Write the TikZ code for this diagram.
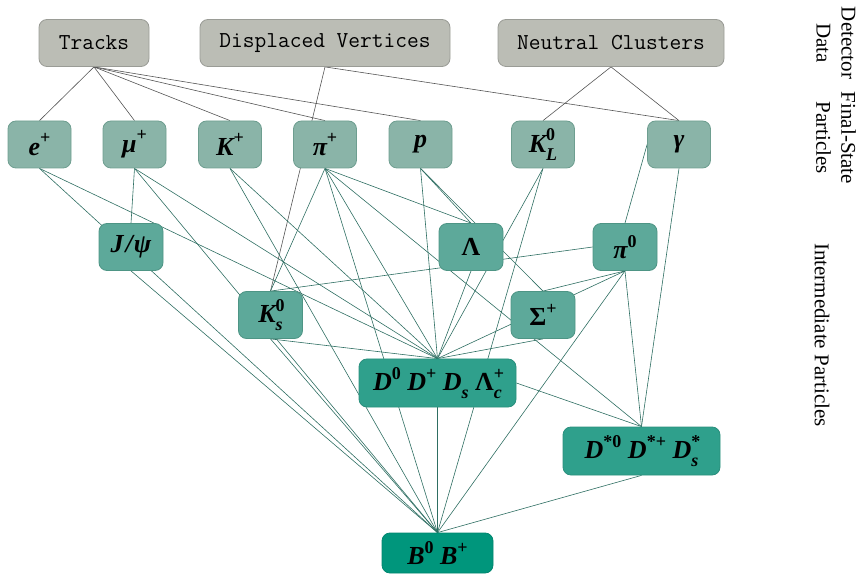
\documentclass[tikz,border=0pt]{standalone}
\usepackage{fontspec}
\setmainfont{Liberation Serif}
\usetikzlibrary{backgrounds}
\definecolor{topfill}{HTML}{BBBDB5}
\definecolor{topdraw}{HTML}{9A9C96}
\definecolor{fsfill}{HTML}{8AB4A8}
\definecolor{fsdraw}{HTML}{6E9E90}
\definecolor{imfill}{HTML}{5DA99A}
\definecolor{imdraw}{HTML}{4E9585}
\definecolor{dfill}{HTML}{2FA08C}
\definecolor{ddraw}{HTML}{2A8F7D}
\definecolor{bfill}{HTML}{00967C}
\definecolor{bdraw}{HTML}{00866F}
\definecolor{glink}{HTML}{555555}
\definecolor{tlink}{HTML}{2E6E62}
\newcommand{\sps}[1]{\raisebox{0.45em}{\fontsize{18}{18}\selectfont\upshape #1}}
\newcommand{\sbs}[1]{\raisebox{-0.3em}{\fontsize{18}{18}\selectfont #1}}
\newcommand{\spsb}[2]{\rlap{\sps{#1}}\sbs{#2}}
\tikzset{
  base/.style={rounded corners=8pt, line width=0.8pt, minimum height=47pt, inner sep=0pt},
  det/.style={base, fill=topfill, draw=topdraw, font=\fontsize{22.8}{24}\ttfamily},
  pfont/.style={font=\fontsize{26}{28}\selectfont\bfseries\itshape},
  fsp/.style={base, pfont, fill=fsfill, draw=fsdraw, minimum width=63pt},
  imp/.style={base, pfont, fill=imfill, draw=imdraw, minimum width=64pt},
  dmes/.style={base, pfont, fill=dfill, draw=ddraw, minimum width=157pt, minimum height=48pt},
  bmes/.style={base, pfont, fill=bfill, draw=bdraw, minimum width=111pt, minimum height=40pt},
  glk/.style={draw=glink, line width=0.6pt},
  tlk/.style={draw=tlink, line width=0.6pt},
  lab/.style={rotate=-90, align=center, font=\fontsize{21}{25}\selectfont, inner sep=0pt}
}
\begin{document}
\begin{tikzpicture}[x=1pt,y=-1pt]
\useasboundingbox (0,0) rectangle (865,577);
% detector data
\node[det, minimum width=110pt] (trk) at (94,43) {Tracks};
\node[det, minimum width=250pt] (dv) at (325,43) {Displaced Vertices};
\node[det, minimum width=226pt] (nc) at (611,43) {Neutral Clusters};
% final state
\node[fsp] (ep) at (39.5,144.5) {e\sps{+}};
\node[fsp] (mu) at (134.5,144.5) {μ\sps{+}};
\node[fsp] (kp) at (230,144.5) {K\sps{+}};
\node[fsp] (pip) at (325,144.5) {π\sps{+}};
\node[fsp] (p) at (420.5,144.5) {p};
\node[fsp] (kl) at (543,144.5) {K\spsb{0}{L}};
\node[fsp] (gam) at (679,144.5) {γ};
% intermediate
\node[imp] (jpsi) at (131,247) {J\kern2pt/\kern1ptψ};
\node[imp] (lam) at (471,247) {\upshape Λ};
\node[imp] (pi0) at (625,247) {π\sps{0}};
\node[imp] (ks) at (270.5,315) {K\spsb{0}{s}};
\node[imp] (sig) at (543,315) {\upshape Σ\sps{+}};
\node[dmes] (d) at (437.5,383) {D\sps{0}\ D\sps{+}\ D\sbs{s}\ \upshape Λ\spsb{+}{\itshape c}};
\node[dmes] (ds) at (641.5,451) {D\sps{*0}\ D\sps{*+}\ D\spsb{*}{s}};
\node[bmes] (b) at (437.5,553) {B\sps{0}\ B\sps{+}};
% labels
\node[lab] (l1) at (836,43) {Detector\\Data};
\node[lab] (l2) at (836,138) {Final-State\\Particles};
\node[lab] (l3) at (822,335) {Intermediate Particles};
\begin{scope}[on background layer]
% detector links
\foreach \t in {ep,mu,kp,pip,p} \path[glk] (trk.south) -- (\t.north);
\path[glk] (dv.south) -- (ks.north);
\path[glk] (dv.south) -- (gam.north);
\path[glk] (nc.south) -- (kl.north);
\path[glk] (nc.south) -- (gam.north);
% particle links
\path[tlk] (mu.south) -- (jpsi.north);
\foreach \s in {ep,mu,kp,pip,p,kl,lam,ks,sig,pi0} \path[tlk] (\s.south) -- (d.north);
\foreach \s in {ep,mu,kp,pip,kl,jpsi,ks,pi0,d,ds} \path[tlk] (\s.south) -- (b.north);
\path[tlk] (pip.south) -- (ks.north);
\path[tlk] (pip.south) -- (lam.north);
\path[tlk] (pip.south) -- (ds.north);
\path[tlk] (p.south) -- (lam.north);
\path[tlk] (p.south) -- (sig.north);
\path[tlk] (gam.west) -- (pi0.north);
\path[tlk] (gam.south) -- (ds.north);
\path[tlk] (pi0.west) -- (ks.north);
\path[tlk] (pi0.south) -- (sig.north);
\path[tlk] (pi0.south) -- (ds.north);
\path[tlk] (d.east) -- (ds.north);
\end{scope}
\end{tikzpicture}
\end{document}
